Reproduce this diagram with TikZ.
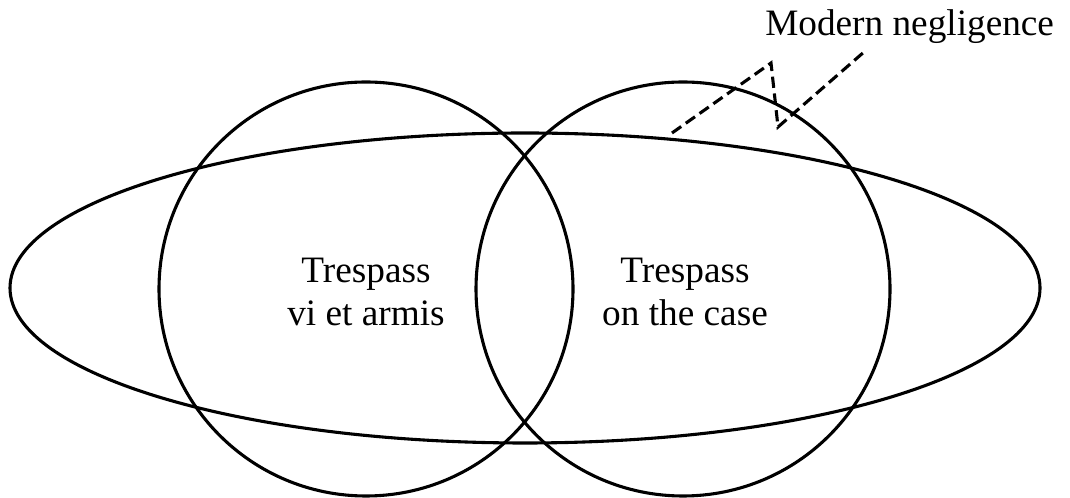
\documentclass[tikz,border=0pt]{standalone}
\usepackage{fontspec}
\setmainfont{Liberation Serif}
\usetikzlibrary{calc}
\tikzset{
  rand/.style={black,line width=2.2pt},
  zeiger/.style={black,line width=2.2pt,dash pattern=on 8pt off 4pt,line join=miter},
  schrift/.style={font=\fontsize{26.5}{30}\selectfont,align=center,inner sep=0pt},
}
\begin{document}
\begin{tikzpicture}[x=0.025cm,y=0.025cm]
  \useasboundingbox (0,0) rectangle (1070,498);
  \draw[rand] (525,210) ellipse [x radius=515,y radius=155];
  \draw[rand] (366,209) circle [radius=207];
  \draw[rand] (683,209) circle [radius=207];
  \node[schrift] (vi) at (366,206) {Trespass\\vi et armis};
  \node[schrift] (case) at (685,206) {Trespass\\on the case};
  \node[schrift,anchor=base west] (neg) at (765,462) {Modern negligence};
  \coordinate (negtip) at (672,365);
  \coordinate (negend) at (864,446);
  \draw[zeiger] (negtip)--(771,435)--(778,371)--(negend);
\end{tikzpicture}
\end{document}
